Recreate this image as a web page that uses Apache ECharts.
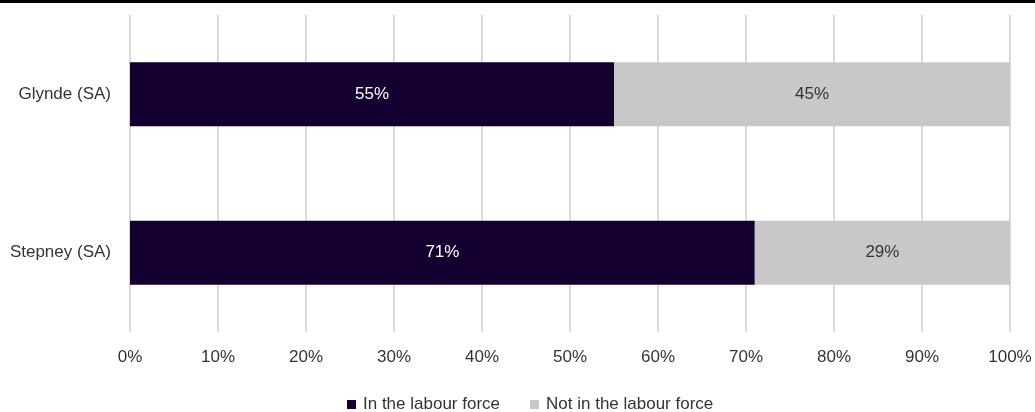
<!DOCTYPE html>
<html>
<head>
<meta charset="utf-8">
<script src="https://cdn.jsdelivr.net/npm/echarts@6/dist/echarts.min.js"></script>
<style>
  html, body { margin: 0; padding: 0; background: #fff; }
  #chart { width: 1035px; height: 412px; }
</style>
</head>
<body>
<div id="chart"></div>
<script>
// Labour force status by suburb (% of persons aged 15+)
const categories = ['Stepney (SA)', 'Glynde (SA)'];
const inLabourForce = [71, 55];
const notInLabourForce = [29, 45];
const seriesNames = ['In the labour force', 'Not in the labour force'];

const FONT = '"Liberation Sans", Arial, sans-serif';
const TEXT = '#333';

const chart = echarts.init(document.getElementById('chart'), null, { renderer: 'canvas' });

chart.setOption({
  animation: false,
  textStyle: { fontFamily: FONT },
  graphic: [{
    type: 'rect',
    left: 0, top: 0,
    shape: { x: 0, y: 0, width: 1035, height: 3 },
    style: { fill: '#000' }
  }],
  grid: { left: 130, right: 25, top: 15, bottom: 80, containLabel: false },
  legend: {
    top: 396,
    left: 347,
    itemWidth: 9,
    itemHeight: 9,
    itemGap: 30,
    padding: 0,
    icon: 'rect',
    textStyle: { fontFamily: FONT, fontSize: 17, color: TEXT, padding: [0, 0, 0, 2] },
    data: seriesNames
  },
  xAxis: {
    type: 'value',
    min: 0,
    max: 100,
    interval: 10,
    axisLine: { show: false },
    axisTick: { show: false },
    splitLine: { show: true, lineStyle: { color: '#d9d9d9', width: 2 } },
    axisLabel: {
      formatter: '{value}%',
      fontFamily: FONT,
      fontSize: 17,
      color: TEXT,
      margin: 17
    }
  },
  yAxis: {
    type: 'category',
    data: categories,
    axisLine: { show: false },
    axisTick: { show: false },
    axisLabel: { fontFamily: FONT, fontSize: 17, color: TEXT, margin: 19 }
  },
  series: [
    {
      name: seriesNames[0],
      type: 'bar',
      stack: 'total',
      barWidth: 64,
      data: inLabourForce,
      itemStyle: { color: '#140030' },
      label: {
        show: true,
        position: 'inside',
        formatter: '{c}%',
        color: '#fff',
        fontFamily: FONT,
        fontSize: 17
      }
    },
    {
      name: seriesNames[1],
      type: 'bar',
      stack: 'total',
      barWidth: 64,
      data: notInLabourForce,
      itemStyle: { color: '#c8c8c8' },
      label: {
        show: true,
        position: 'inside',
        formatter: '{c}%',
        color: TEXT,
        fontFamily: FONT,
        fontSize: 17
      }
    }
  ]
});
</script>
</body>
</html>
